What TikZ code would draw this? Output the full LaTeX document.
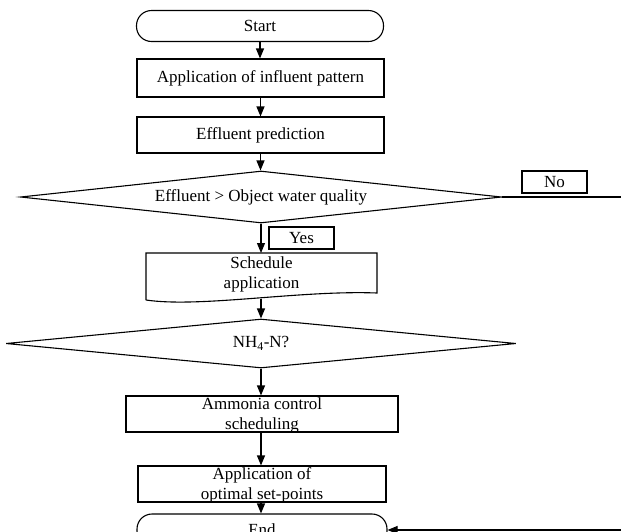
\documentclass[tikz,border=0pt]{standalone}
\usepackage{fontspec}
\setmainfont{Liberation Serif}
\usetikzlibrary{shapes.geometric,arrows.meta}
\begin{document}
\begin{tikzpicture}[x=1pt,y=-1pt,
  font=\fontsize{17}{20.5}\selectfont,
  line width=1.1pt,
  box/.style={draw,rectangle,inner sep=0pt,align=center},
  txt/.style={inner sep=0pt,align=center},
  term/.style={draw,rectangle,rounded corners=15pt,inner sep=0pt,minimum width=247pt,minimum height=31pt},
  dec/.style={draw,diamond,inner sep=0pt,aspect=9},
  tag/.style={draw,rectangle,inner sep=0pt,minimum width=65pt,minimum height=22pt},
  arr/.style={-{Triangle[length=10pt,width=8pt]}}]
\fill[white] (0,0) rectangle (621,531);
\useasboundingbox (0,0) rectangle (621,531);
\clip (0,0) rectangle (621,531);

\node[term] (start) at (260,26) {Start};
\node[box,minimum width=247pt,minimum height=38pt] (b1) at (260.5,78) {Application of influent pattern};
\node[box,minimum width=247pt,minimum height=36pt] (b2) at (260.5,135) {Effluent prediction};
\node[dec,minimum width=481pt,minimum height=52pt] (d1) at (261,197) {Effluent > Object water quality};
\node[tag] (no) at (554.5,182) {No};
\node[tag] (yes) at (301.5,238) {Yes};

\node[txt,minimum width=231pt] (sched) at (261.5,274.5) {Schedule\\application};
\draw (146,300) -- (146,253) -- (377,253) -- (377,293)
      .. controls (300,290) and (200,308) .. (146,300);
\coordinate (schedtop) at (261,253);
\coordinate (sb) at (261,298.5);

\node[dec,minimum width=510pt,minimum height=49pt] (d2) at (261,343.5) {NH\textsubscript{4}-N?};
\node[box,minimum width=272pt,minimum height=36pt] (b3) at (262,414) {};
\node[txt] (b3t) at (262,415.5) {Ammonia control\\scheduling};
\node[box,minimum width=248pt,minimum height=36pt] (b4) at (262,484) {};
\node[txt] (b4t) at (262,485.5) {Application of\\optimal set-points};
\node[term,minimum width=250pt,minimum height=32pt] (end) at (262,530) {End};

\coordinate (r1) at (650,197);
\coordinate (r2) at (650,530);

\draw[arr] (start.south) -- (start.south |- b1.north);
\draw[arr] (b1.south) -- (b1.south |- b2.north);
\draw[arr] (b2.south) -- (b2.south |- d1.north);
\draw[arr] (d1.south) -- (schedtop);
\draw[arr] (sb) -- (sb |- d2.north);
\draw[arr] (d2.south) -- (d2.south |- b3.north);
\draw[arr] (b3.south -| d2.south) -- (d2.south |- b4.north);
\draw[arr] (b4.south -| d2.south) -- (d2.south |- end.north);
\draw[arr] (d1.east) -- (r1) -- (r2) -- (end.east);
\end{tikzpicture}
\end{document}
